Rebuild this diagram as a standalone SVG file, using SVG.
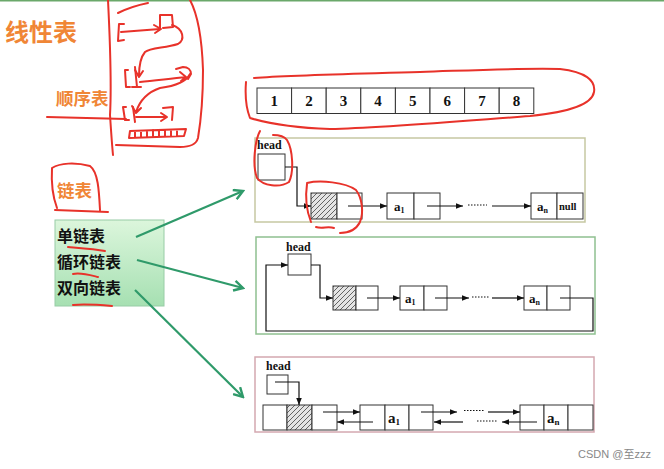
<svg xmlns="http://www.w3.org/2000/svg" width="664" height="469" viewBox="0 0 664 469">
<defs>
<pattern id="hatch" patternUnits="userSpaceOnUse" width="5" height="5">
<rect width="5" height="5" fill="#e4e4e4"/>
<path d="M-1,1 l2,-2 M0,5 l5,-5 M4,6 l2,-2" stroke="#555" stroke-width="0.9"/>
</pattern>
<linearGradient id="gbox" x1="0" y1="0" x2="0" y2="1">
<stop offset="0" stop-color="#dcf6dc"/>
<stop offset="1" stop-color="#a6e0b2"/>
</linearGradient>
<marker id="ah" viewBox="0 0 10 10" refX="10" refY="5" markerWidth="7" markerHeight="7" markerUnits="userSpaceOnUse" orient="auto">
<path d="M0,1 L10,5 L0,9 Z" fill="#111"/>
</marker>
<marker id="ga" viewBox="0 0 12 12" refX="10" refY="6" markerWidth="12" markerHeight="12" markerUnits="userSpaceOnUse" orient="auto">
<path d="M1,1 L10,6 L1,11" fill="none" stroke="#2f9a6a" stroke-width="2.4"/>
</marker>
</defs>
<style>
.nd{fill:#fff;stroke:#333;stroke-width:1}
.ht{fill:url(#hatch);stroke:#333;stroke-width:1}
.ln{fill:none;stroke:#111;stroke-width:1.2}
.dot{fill:none;stroke:#111;stroke-width:1.2;stroke-dasharray:1.5,1.5}
.lbl{font-family:"Liberation Serif",serif;font-weight:bold;fill:#111}
.red{fill:none;stroke:#e8322a;stroke-width:2;stroke-linecap:round;stroke-linejoin:round}
.org{font-family:"Noto Sans CJK SC",sans-serif;font-weight:bold;fill:#f08636}
.cn{font-family:"Noto Sans CJK SC",sans-serif;font-weight:bold;fill:#111;font-size:16px}
.garr{fill:none;stroke:#2f9a6a;stroke-width:2.2}
</style>
<rect width="664" height="469" fill="#fff"/>
<rect x="0" y="0" width="664" height="1.5" fill="#6aa86a"/>

<!-- titles -->
<text class="org" x="5" y="41" font-size="24">线性表</text>
<text class="org" x="56" y="105" font-size="17.5">顺序表</text>
<text class="org" x="57" y="197" font-size="17.5">链表</text>

<!-- array (顺序表) -->
<g id="array">
<rect class="nd" x="257" y="88" width="34.6" height="25.5"/>
<rect class="nd" x="291.6" y="88" width="34.6" height="25.5"/>
<rect class="nd" x="326.2" y="88" width="34.6" height="25.5"/>
<rect class="nd" x="360.8" y="88" width="34.6" height="25.5"/>
<rect class="nd" x="395.4" y="88" width="34.6" height="25.5"/>
<rect class="nd" x="430" y="88" width="34.6" height="25.5"/>
<rect class="nd" x="464.6" y="88" width="34.6" height="25.5"/>
<rect class="nd" x="499.2" y="88" width="34.6" height="25.5"/>
<g class="lbl" font-size="15" text-anchor="middle">
<text x="274.3" y="106">1</text><text x="308.9" y="106">2</text><text x="343.5" y="106">3</text><text x="378.1" y="106">4</text>
<text x="412.7" y="106">5</text><text x="447.3" y="106">6</text><text x="481.9" y="106">7</text><text x="516.5" y="106">8</text>
</g>
</g>

<!-- green category box -->
<g id="types">
<rect x="55" y="220" width="109" height="86" fill="url(#gbox)" stroke="#98cca6" stroke-width="1"/>
<text class="cn" x="57" y="242">单链表</text>
<text class="cn" x="57" y="268">循环链表</text>
<text class="cn" x="57" y="294">双向链表</text>
</g>

<!-- single linked list -->
<g id="single">
<rect x="255" y="138" width="330" height="84" fill="none" stroke="#c6c8a2" stroke-width="1.5"/>
<text class="lbl" x="257" y="149" font-size="12">head</text>
<rect class="nd" x="258" y="154" width="27" height="26"/>
<rect class="ht" x="311" y="193" width="26" height="26"/>
<rect class="nd" x="337" y="193" width="25" height="26"/>
<rect class="nd" x="387" y="193" width="27" height="26"/>
<rect class="nd" x="414" y="193" width="26" height="26"/>
<rect class="nd" x="531" y="193" width="26" height="26"/>
<rect class="nd" x="557" y="193" width="26" height="26"/>
<text class="lbl" x="394" y="211" font-size="13">a<tspan font-size="8" dy="2">1</tspan></text>
<text class="lbl" x="537" y="211" font-size="13">a<tspan font-size="8" dy="2">n</tspan></text>
<text class="lbl" x="559" y="210" font-size="10.5">null</text>
</g>

<!-- circular linked list -->
<g id="circular">
<rect x="256" y="237" width="339" height="97" fill="none" stroke="#8fc090" stroke-width="1.5"/>
<text class="lbl" x="286" y="251" font-size="12">head</text>
<rect class="nd" x="288" y="254" width="23" height="21"/>
<rect class="ht" x="333" y="286" width="23" height="24"/>
<rect class="nd" x="356" y="286" width="22" height="24"/>
<rect class="nd" x="400" y="286" width="24" height="24"/>
<rect class="nd" x="424" y="286" width="23" height="24"/>
<rect class="nd" x="524" y="286" width="23" height="24"/>
<rect class="nd" x="547" y="286" width="23" height="24"/>
<text class="lbl" x="405" y="303" font-size="13">a<tspan font-size="8" dy="2">1</tspan></text>
<text class="lbl" x="529" y="303" font-size="13">a<tspan font-size="8" dy="2">n</tspan></text>
</g>

<!-- doubly linked list -->
<g id="double">
<rect x="255" y="357" width="339" height="75" fill="none" stroke="#d4a8b0" stroke-width="1.5"/>
<text class="lbl" x="266" y="370" font-size="12">head</text>
<rect class="nd" x="267" y="375" width="21" height="19"/>
<rect class="nd" x="263" y="405" width="24" height="25"/>
<rect class="ht" x="287" y="405" width="25" height="25"/>
<rect class="nd" x="312" y="405" width="25" height="25"/>
<rect class="nd" x="360" y="405" width="25" height="25"/>
<rect class="nd" x="385" y="405" width="24" height="25"/>
<rect class="nd" x="409" y="405" width="24" height="25"/>
<rect class="nd" x="520" y="405" width="24" height="25"/>
<rect class="nd" x="544" y="405" width="24" height="25"/>
<rect class="nd" x="568" y="405" width="25" height="25"/>
<text class="lbl" x="388" y="423" font-size="15">a<tspan font-size="9" dy="2">1</tspan></text>
<text class="lbl" x="547" y="423" font-size="15">a<tspan font-size="9" dy="2">n</tspan></text>
</g>

<!-- connectors -->
<g id="connectors">
<path class="ln" d="M285,167 H297 V206 H311" marker-end="url(#ah)"/>
<path class="ln" d="M348,206 H387" marker-end="url(#ah)"/>
<path class="ln" d="M427,206 H463" marker-end="url(#ah)"/>
<path class="dot" d="M468,205 H487"/>
<path class="ln" d="M492,206 H531" marker-end="url(#ah)"/>

<path class="ln" d="M311,265 H320 V298 H333" marker-end="url(#ah)"/>
<path class="ln" d="M367,298 H400" marker-end="url(#ah)"/>
<path class="ln" d="M435,298 H469" marker-end="url(#ah)"/>
<path class="dot" d="M472,297 H490"/>
<path class="ln" d="M492,298 H524" marker-end="url(#ah)"/>
<path class="ln" d="M560,298 H593 V331 H266 V265 H288" marker-end="url(#ah)"/>

<path class="ln" d="M275,382 H299 V405" marker-end="url(#ah)"/>
<path class="ln" d="M323,412 H360" marker-end="url(#ah)"/>
<path class="ln" d="M373,422 H337" marker-end="url(#ah)"/>
<path class="ln" d="M421,412 H457" marker-end="url(#ah)"/>
<path class="ln" d="M463,422 H434" marker-end="url(#ah)"/>
<path class="dot" d="M464,410.5 H484"/>
<path class="dot" d="M477,421 H497"/>
<path class="ln" d="M488,412 H520" marker-end="url(#ah)"/>
<path class="ln" d="M537,422 H502" marker-end="url(#ah)"/>

<path class="garr" d="M136,237 L243,191" marker-end="url(#ga)"/>
<path class="garr" d="M137,260 L243,288" marker-end="url(#ga)"/>
<path class="garr" d="M135,290 L243,397" marker-end="url(#ga)"/>
</g>

<!-- handwritten red annotations -->
<g id="annotations">
<path class="red" d="M108,0 C110,40 112,80 110,115 C111,130 112,145 113,155"/>
<path class="red" d="M190,0 C198,15 202,40 203,70 C203,95 201,120 198,138 C196,145 190,147 180,147 L116,145"/>
<path class="red" d="M118,13 C128,8 138,5 148,3"/>
<path class="red" d="M47,117 L126,119"/>
<path class="red" d="M124,24 L119,24 L118,41 L124,40"/>
<path class="red" d="M121,32 L160,29 M154,25 L161,29 L155,33"/>
<path class="red" d="M160,28 L160,15 L172,15 L173,27 L163,28"/>
<path class="red" d="M172,25 C184,29 185,40 178,44 C165,48 150,48 145,52 C140,58 139,68 139,76 M135,70 L139,77 L143,71"/>
<path class="red" d="M128,70 L125,70 L126,87 L130,87 M135,67 L137,87 M132,87 L141,87"/>
<path class="red" d="M140,82 C155,80 170,79 186,77 M180,72 L186,77 L181,81"/>
<path class="red" d="M176,69 L183,67 C188,67 191,70 191,74 L188,79"/>
<path class="red" d="M190,74 C186,82 175,86 160,88 C148,92 140,100 136,112 M132,106 L136,113 L141,108"/>
<path class="red" d="M126,107 L123,107 L125,120 L129,120 M133,107 L135,122"/>
<path class="red" d="M136,117 L166,117 M161,113 L167,117 L161,121"/>
<path class="red" d="M163,108 L173,107 L172,120"/>
<path class="red" d="M130,131 L186,129 L184,136 L129,138 Z M135,131 V137 M141,131 V137 M147,131 V137 M153,130 V137 M159,130 V136 M165,130 V136 M171,130 V136 M177,130 V136"/>
<path class="red" d="M246,82 C245,95 246,108 250,118 C270,124 300,128 330,129 C380,128 450,122 530,116 C570,112 592,104 594,92 C596,80 585,72 560,69 C520,68 480,70 420,72 C350,74 290,75 254,78"/>
<path class="red" d="M260,131 C255,140 252,165 257,178 C263,186 280,188 289,182 C294,172 293,150 287,140 C284,136 278,135 273,135"/>
<path class="red" d="M307,183 C320,180 345,182 356,190 C362,198 364,212 360,222 C356,230 348,233 340,233 M307,184 C305,198 307,212 311,222 M316,227 C322,229 328,226 334,228"/>
<path class="red" d="M52,168 C51,185 54,200 57,208 M52,168 C60,163 75,162 90,166 C98,172 99,190 100,210 M55,210 L108,212"/>
<path class="red" d="M68,247 C80,248 95,249 105,251"/>
<path class="red" d="M73,274 C80,272 90,275 98,277"/>
<path class="red" d="M73,305 C85,304 100,305 112,306"/>
</g>

<text x="578" y="458" font-family="Liberation Sans, Noto Sans CJK SC, sans-serif" font-size="11" fill="#888">CSDN @至zzz</text>
</svg>
